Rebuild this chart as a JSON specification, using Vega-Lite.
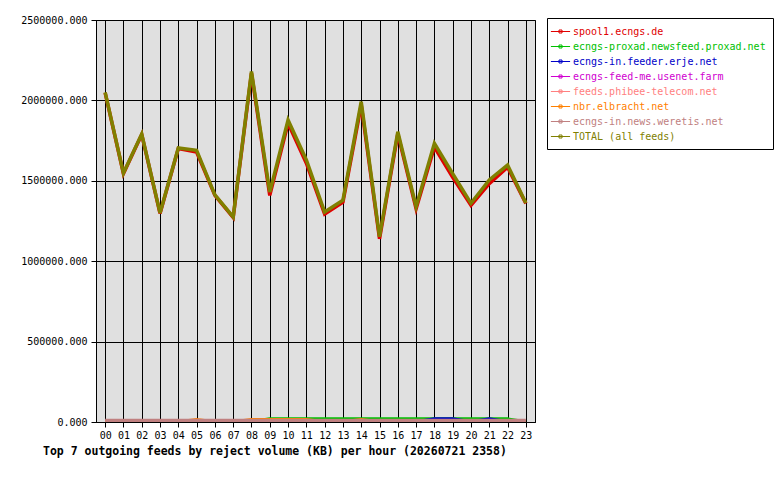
{
  "$schema": "https://vega.github.io/schema/vega-lite/v6.json",
  "width": 439,
  "height": 402,
  "autosize": {"type": "none"},
  "padding": {"left": 96, "top": 20, "right": 245, "bottom": 58},
  "background": "#ffffff",
  "title": {
    "text": "Top 7 outgoing feeds by reject volume (KB) per hour (20260721 2358)",
    "orient": "bottom",
    "anchor": "start",
    "frame": "group",
    "dx": -53,
    "offset": 6,
    "font": "DejaVu Sans Mono",
    "fontSize": 11.5,
    "fontWeight": "bold",
    "color": "#000000"
  },
  "data": {
    "values": [
      {"h": "00", "f": "spool1.ecngs.de", "v": 2047000},
      {"h": "01", "f": "spool1.ecngs.de", "v": 1545000},
      {"h": "02", "f": "spool1.ecngs.de", "v": 1788000},
      {"h": "03", "f": "spool1.ecngs.de", "v": 1297000},
      {"h": "04", "f": "spool1.ecngs.de", "v": 1701000},
      {"h": "05", "f": "spool1.ecngs.de", "v": 1679000},
      {"h": "06", "f": "spool1.ecngs.de", "v": 1409000},
      {"h": "07", "f": "spool1.ecngs.de", "v": 1272000},
      {"h": "08", "f": "spool1.ecngs.de", "v": 2169000},
      {"h": "09", "f": "spool1.ecngs.de", "v": 1409000},
      {"h": "10", "f": "spool1.ecngs.de", "v": 1857000},
      {"h": "11", "f": "spool1.ecngs.de", "v": 1609000},
      {"h": "12", "f": "spool1.ecngs.de", "v": 1293000},
      {"h": "13", "f": "spool1.ecngs.de", "v": 1367000},
      {"h": "14", "f": "spool1.ecngs.de", "v": 1971000},
      {"h": "15", "f": "spool1.ecngs.de", "v": 1139000},
      {"h": "16", "f": "spool1.ecngs.de", "v": 1792000},
      {"h": "17", "f": "spool1.ecngs.de", "v": 1326000},
      {"h": "18", "f": "spool1.ecngs.de", "v": 1710000},
      {"h": "19", "f": "spool1.ecngs.de", "v": 1522000},
      {"h": "20", "f": "spool1.ecngs.de", "v": 1347000},
      {"h": "21", "f": "spool1.ecngs.de", "v": 1482000},
      {"h": "22", "f": "spool1.ecngs.de", "v": 1585000},
      {"h": "23", "f": "spool1.ecngs.de", "v": 1359000},
      {"h": "00", "f": "ecngs-proxad.newsfeed.proxad.net", "v": 0},
      {"h": "01", "f": "ecngs-proxad.newsfeed.proxad.net", "v": 0},
      {"h": "02", "f": "ecngs-proxad.newsfeed.proxad.net", "v": 0},
      {"h": "03", "f": "ecngs-proxad.newsfeed.proxad.net", "v": 0},
      {"h": "04", "f": "ecngs-proxad.newsfeed.proxad.net", "v": 0},
      {"h": "05", "f": "ecngs-proxad.newsfeed.proxad.net", "v": 0},
      {"h": "06", "f": "ecngs-proxad.newsfeed.proxad.net", "v": 0},
      {"h": "07", "f": "ecngs-proxad.newsfeed.proxad.net", "v": 0},
      {"h": "08", "f": "ecngs-proxad.newsfeed.proxad.net", "v": 0},
      {"h": "09", "f": "ecngs-proxad.newsfeed.proxad.net", "v": 18000},
      {"h": "10", "f": "ecngs-proxad.newsfeed.proxad.net", "v": 18000},
      {"h": "11", "f": "ecngs-proxad.newsfeed.proxad.net", "v": 18000},
      {"h": "12", "f": "ecngs-proxad.newsfeed.proxad.net", "v": 18000},
      {"h": "13", "f": "ecngs-proxad.newsfeed.proxad.net", "v": 18000},
      {"h": "14", "f": "ecngs-proxad.newsfeed.proxad.net", "v": 18000},
      {"h": "15", "f": "ecngs-proxad.newsfeed.proxad.net", "v": 18000},
      {"h": "16", "f": "ecngs-proxad.newsfeed.proxad.net", "v": 18000},
      {"h": "17", "f": "ecngs-proxad.newsfeed.proxad.net", "v": 18000},
      {"h": "18", "f": "ecngs-proxad.newsfeed.proxad.net", "v": 18000},
      {"h": "19", "f": "ecngs-proxad.newsfeed.proxad.net", "v": 18000},
      {"h": "20", "f": "ecngs-proxad.newsfeed.proxad.net", "v": 18000},
      {"h": "21", "f": "ecngs-proxad.newsfeed.proxad.net", "v": 18000},
      {"h": "22", "f": "ecngs-proxad.newsfeed.proxad.net", "v": 18000},
      {"h": "23", "f": "ecngs-proxad.newsfeed.proxad.net", "v": 0},
      {"h": "00", "f": "ecngs-in.feeder.erje.net", "v": 0},
      {"h": "01", "f": "ecngs-in.feeder.erje.net", "v": 0},
      {"h": "02", "f": "ecngs-in.feeder.erje.net", "v": 0},
      {"h": "03", "f": "ecngs-in.feeder.erje.net", "v": 0},
      {"h": "04", "f": "ecngs-in.feeder.erje.net", "v": 0},
      {"h": "05", "f": "ecngs-in.feeder.erje.net", "v": 0},
      {"h": "06", "f": "ecngs-in.feeder.erje.net", "v": 0},
      {"h": "07", "f": "ecngs-in.feeder.erje.net", "v": 0},
      {"h": "08", "f": "ecngs-in.feeder.erje.net", "v": 0},
      {"h": "09", "f": "ecngs-in.feeder.erje.net", "v": 0},
      {"h": "10", "f": "ecngs-in.feeder.erje.net", "v": 0},
      {"h": "11", "f": "ecngs-in.feeder.erje.net", "v": 0},
      {"h": "12", "f": "ecngs-in.feeder.erje.net", "v": 0},
      {"h": "13", "f": "ecngs-in.feeder.erje.net", "v": 0},
      {"h": "14", "f": "ecngs-in.feeder.erje.net", "v": 0},
      {"h": "15", "f": "ecngs-in.feeder.erje.net", "v": 0},
      {"h": "16", "f": "ecngs-in.feeder.erje.net", "v": 0},
      {"h": "17", "f": "ecngs-in.feeder.erje.net", "v": 0},
      {"h": "18", "f": "ecngs-in.feeder.erje.net", "v": 18000},
      {"h": "19", "f": "ecngs-in.feeder.erje.net", "v": 18000},
      {"h": "20", "f": "ecngs-in.feeder.erje.net", "v": 0},
      {"h": "21", "f": "ecngs-in.feeder.erje.net", "v": 18000},
      {"h": "22", "f": "ecngs-in.feeder.erje.net", "v": 0},
      {"h": "23", "f": "ecngs-in.feeder.erje.net", "v": 0},
      {"h": "00", "f": "ecngs-feed-me.usenet.farm", "v": 0},
      {"h": "01", "f": "ecngs-feed-me.usenet.farm", "v": 0},
      {"h": "02", "f": "ecngs-feed-me.usenet.farm", "v": 0},
      {"h": "03", "f": "ecngs-feed-me.usenet.farm", "v": 0},
      {"h": "04", "f": "ecngs-feed-me.usenet.farm", "v": 0},
      {"h": "05", "f": "ecngs-feed-me.usenet.farm", "v": 0},
      {"h": "06", "f": "ecngs-feed-me.usenet.farm", "v": 0},
      {"h": "07", "f": "ecngs-feed-me.usenet.farm", "v": 0},
      {"h": "08", "f": "ecngs-feed-me.usenet.farm", "v": 0},
      {"h": "09", "f": "ecngs-feed-me.usenet.farm", "v": 0},
      {"h": "10", "f": "ecngs-feed-me.usenet.farm", "v": 0},
      {"h": "11", "f": "ecngs-feed-me.usenet.farm", "v": 0},
      {"h": "12", "f": "ecngs-feed-me.usenet.farm", "v": 0},
      {"h": "13", "f": "ecngs-feed-me.usenet.farm", "v": 0},
      {"h": "14", "f": "ecngs-feed-me.usenet.farm", "v": 0},
      {"h": "15", "f": "ecngs-feed-me.usenet.farm", "v": 0},
      {"h": "16", "f": "ecngs-feed-me.usenet.farm", "v": 0},
      {"h": "17", "f": "ecngs-feed-me.usenet.farm", "v": 0},
      {"h": "18", "f": "ecngs-feed-me.usenet.farm", "v": 0},
      {"h": "19", "f": "ecngs-feed-me.usenet.farm", "v": 0},
      {"h": "20", "f": "ecngs-feed-me.usenet.farm", "v": 0},
      {"h": "21", "f": "ecngs-feed-me.usenet.farm", "v": 0},
      {"h": "22", "f": "ecngs-feed-me.usenet.farm", "v": 0},
      {"h": "23", "f": "ecngs-feed-me.usenet.farm", "v": 0},
      {"h": "00", "f": "feeds.phibee-telecom.net", "v": 0},
      {"h": "01", "f": "feeds.phibee-telecom.net", "v": 0},
      {"h": "02", "f": "feeds.phibee-telecom.net", "v": 0},
      {"h": "03", "f": "feeds.phibee-telecom.net", "v": 0},
      {"h": "04", "f": "feeds.phibee-telecom.net", "v": 0},
      {"h": "05", "f": "feeds.phibee-telecom.net", "v": 0},
      {"h": "06", "f": "feeds.phibee-telecom.net", "v": 0},
      {"h": "07", "f": "feeds.phibee-telecom.net", "v": 0},
      {"h": "08", "f": "feeds.phibee-telecom.net", "v": 0},
      {"h": "09", "f": "feeds.phibee-telecom.net", "v": 0},
      {"h": "10", "f": "feeds.phibee-telecom.net", "v": 0},
      {"h": "11", "f": "feeds.phibee-telecom.net", "v": 0},
      {"h": "12", "f": "feeds.phibee-telecom.net", "v": 0},
      {"h": "13", "f": "feeds.phibee-telecom.net", "v": 0},
      {"h": "14", "f": "feeds.phibee-telecom.net", "v": 0},
      {"h": "15", "f": "feeds.phibee-telecom.net", "v": 0},
      {"h": "16", "f": "feeds.phibee-telecom.net", "v": 0},
      {"h": "17", "f": "feeds.phibee-telecom.net", "v": 0},
      {"h": "18", "f": "feeds.phibee-telecom.net", "v": 0},
      {"h": "19", "f": "feeds.phibee-telecom.net", "v": 0},
      {"h": "20", "f": "feeds.phibee-telecom.net", "v": 0},
      {"h": "21", "f": "feeds.phibee-telecom.net", "v": 0},
      {"h": "22", "f": "feeds.phibee-telecom.net", "v": 0},
      {"h": "23", "f": "feeds.phibee-telecom.net", "v": 0},
      {"h": "00", "f": "nbr.elbracht.net", "v": 0},
      {"h": "01", "f": "nbr.elbracht.net", "v": 0},
      {"h": "02", "f": "nbr.elbracht.net", "v": 0},
      {"h": "03", "f": "nbr.elbracht.net", "v": 0},
      {"h": "04", "f": "nbr.elbracht.net", "v": 0},
      {"h": "05", "f": "nbr.elbracht.net", "v": 14000},
      {"h": "06", "f": "nbr.elbracht.net", "v": 0},
      {"h": "07", "f": "nbr.elbracht.net", "v": 0},
      {"h": "08", "f": "nbr.elbracht.net", "v": 14000},
      {"h": "09", "f": "nbr.elbracht.net", "v": 14000},
      {"h": "10", "f": "nbr.elbracht.net", "v": 14000},
      {"h": "11", "f": "nbr.elbracht.net", "v": 14000},
      {"h": "12", "f": "nbr.elbracht.net", "v": 0},
      {"h": "13", "f": "nbr.elbracht.net", "v": 0},
      {"h": "14", "f": "nbr.elbracht.net", "v": 14000},
      {"h": "15", "f": "nbr.elbracht.net", "v": 0},
      {"h": "16", "f": "nbr.elbracht.net", "v": 0},
      {"h": "17", "f": "nbr.elbracht.net", "v": 0},
      {"h": "18", "f": "nbr.elbracht.net", "v": 0},
      {"h": "19", "f": "nbr.elbracht.net", "v": 0},
      {"h": "20", "f": "nbr.elbracht.net", "v": 0},
      {"h": "21", "f": "nbr.elbracht.net", "v": 0},
      {"h": "22", "f": "nbr.elbracht.net", "v": 0},
      {"h": "23", "f": "nbr.elbracht.net", "v": 0},
      {"h": "00", "f": "ecngs-in.news.weretis.net", "v": 9000},
      {"h": "01", "f": "ecngs-in.news.weretis.net", "v": 9000},
      {"h": "02", "f": "ecngs-in.news.weretis.net", "v": 9000},
      {"h": "03", "f": "ecngs-in.news.weretis.net", "v": 9000},
      {"h": "04", "f": "ecngs-in.news.weretis.net", "v": 9000},
      {"h": "05", "f": "ecngs-in.news.weretis.net", "v": 9000},
      {"h": "06", "f": "ecngs-in.news.weretis.net", "v": 9000},
      {"h": "07", "f": "ecngs-in.news.weretis.net", "v": 9000},
      {"h": "08", "f": "ecngs-in.news.weretis.net", "v": 9000},
      {"h": "09", "f": "ecngs-in.news.weretis.net", "v": 9000},
      {"h": "10", "f": "ecngs-in.news.weretis.net", "v": 9000},
      {"h": "11", "f": "ecngs-in.news.weretis.net", "v": 9000},
      {"h": "12", "f": "ecngs-in.news.weretis.net", "v": 9000},
      {"h": "13", "f": "ecngs-in.news.weretis.net", "v": 9000},
      {"h": "14", "f": "ecngs-in.news.weretis.net", "v": 9000},
      {"h": "15", "f": "ecngs-in.news.weretis.net", "v": 9000},
      {"h": "16", "f": "ecngs-in.news.weretis.net", "v": 9000},
      {"h": "17", "f": "ecngs-in.news.weretis.net", "v": 9000},
      {"h": "18", "f": "ecngs-in.news.weretis.net", "v": 9000},
      {"h": "19", "f": "ecngs-in.news.weretis.net", "v": 9000},
      {"h": "20", "f": "ecngs-in.news.weretis.net", "v": 9000},
      {"h": "21", "f": "ecngs-in.news.weretis.net", "v": 9000},
      {"h": "22", "f": "ecngs-in.news.weretis.net", "v": 9000},
      {"h": "23", "f": "ecngs-in.news.weretis.net", "v": 9000},
      {"h": "00", "f": "TOTAL (all feeds)", "v": 2050000},
      {"h": "01", "f": "TOTAL (all feeds)", "v": 1548000},
      {"h": "02", "f": "TOTAL (all feeds)", "v": 1791000},
      {"h": "03", "f": "TOTAL (all feeds)", "v": 1300000},
      {"h": "04", "f": "TOTAL (all feeds)", "v": 1704000},
      {"h": "05", "f": "TOTAL (all feeds)", "v": 1690000},
      {"h": "06", "f": "TOTAL (all feeds)", "v": 1412000},
      {"h": "07", "f": "TOTAL (all feeds)", "v": 1275000},
      {"h": "08", "f": "TOTAL (all feeds)", "v": 2180000},
      {"h": "09", "f": "TOTAL (all feeds)", "v": 1430000},
      {"h": "10", "f": "TOTAL (all feeds)", "v": 1878000},
      {"h": "11", "f": "TOTAL (all feeds)", "v": 1630000},
      {"h": "12", "f": "TOTAL (all feeds)", "v": 1306000},
      {"h": "13", "f": "TOTAL (all feeds)", "v": 1380000},
      {"h": "14", "f": "TOTAL (all feeds)", "v": 1992000},
      {"h": "15", "f": "TOTAL (all feeds)", "v": 1152000},
      {"h": "16", "f": "TOTAL (all feeds)", "v": 1805000},
      {"h": "17", "f": "TOTAL (all feeds)", "v": 1339000},
      {"h": "18", "f": "TOTAL (all feeds)", "v": 1733000},
      {"h": "19", "f": "TOTAL (all feeds)", "v": 1545000},
      {"h": "20", "f": "TOTAL (all feeds)", "v": 1360000},
      {"h": "21", "f": "TOTAL (all feeds)", "v": 1505000},
      {"h": "22", "f": "TOTAL (all feeds)", "v": 1598000},
      {"h": "23", "f": "TOTAL (all feeds)", "v": 1362000}
    ]
  },
  "mark": {"type": "line", "strokeWidth": 3.5, "clip": true},
  "encoding": {
    "x": {
      "field": "h",
      "type": "ordinal",
      "scale": {"type": "point", "padding": 0.5},
      "axis": {
        "title": null,
        "labelAngle": 0,
        "grid": true,
        "gridColor": "#000000",
        "gridOpacity": 1,
        "gridWidth": 1,
        "tickColor": "#000000",
        "tickSize": 5,
        "domainColor": "#000000",
        "labelPadding": 3
      }
    },
    "y": {
      "field": "v",
      "type": "quantitative",
      "scale": {"domain": [0, 2500000], "nice": false},
      "axis": {
        "title": null,
        "values": [0, 500000, 1000000, 1500000, 2000000, 2500000],
        "format": ".3f",
        "grid": true,
        "gridColor": "#000000",
        "gridOpacity": 1,
        "gridWidth": 1,
        "tickColor": "#000000",
        "tickSize": 5,
        "domainColor": "#000000",
        "labelPadding": 4
      }
    },
    "color": {
      "field": "f",
      "type": "nominal",
      "sort": null,
      "scale": {
        "domain": [
          "spool1.ecngs.de",
          "ecngs-proxad.newsfeed.proxad.net",
          "ecngs-in.feeder.erje.net",
          "ecngs-feed-me.usenet.farm",
          "feeds.phibee-telecom.net",
          "nbr.elbracht.net",
          "ecngs-in.news.weretis.net",
          "TOTAL (all feeds)"
        ],
        "range": ["#e00000", "#00c000", "#0000c8", "#d000d0", "#ff8080", "#ff8000", "#c08080", "#808000"]
      },
      "legend": {
        "title": null,
        "orient": "none",
        "legendX": 451,
        "legendY": -2,
        "padding": 7,
        "strokeColor": "#000000",
        "fillColor": "#ffffff",
        "symbolType": "M-1.6,0H1.6M-0.25,-0.25H0.25V0.25H-0.25Z",
        "symbolSize": 144,
        "symbolStrokeWidth": 1,
        "symbolFillColor": "transparent",
        "labelFont": "DejaVu Sans Mono",
        "labelFontSize": 10,
        "labelOffset": 6,
        "labelLimit": 400,
        "rowPadding": 3,
        "labelColor": {"expr": "scale('color', datum.value)"}
      }
    }
  },
  "config": {
    "view": {"fill": "#e0e0e0", "stroke": "#000000", "strokeWidth": 1},
    "axis": {
      "labelFont": "DejaVu Sans Mono",
      "labelFontSize": 10,
      "labelColor": "#000000"
    }
  }
}
